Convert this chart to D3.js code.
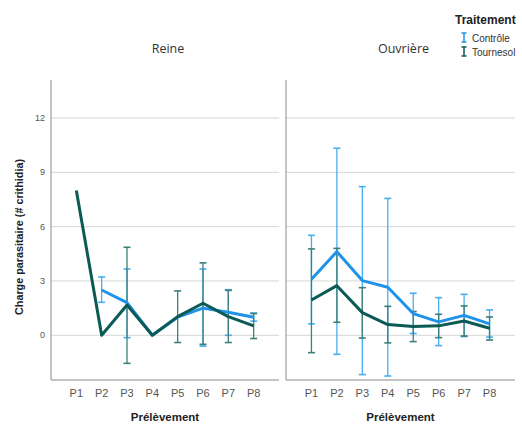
<!DOCTYPE html>
<html>
<head>
<meta charset="utf-8">
<script src="https://cdn.jsdelivr.net/npm/d3@7"></script>
<style>
  body { margin: 0; background: #fff; }
  svg { display: block; }
</style>
</head>
<body>
<div id="chart"></div>
<script>
// Data
const categories = ['P1', 'P2', 'P3', 'P4', 'P5', 'P6', 'P7', 'P8'];
const panelNames = ['Reine', 'Ouvrière'];
const seriesNames = ['Contrôle', 'Tournesol'];
const yTicks = [0, 3, 6, 9, 12];

// Reine
const reineControle     = [null, 2.5, 1.8, 0, 1.0, 1.5, 1.27, 1.0];
const reineControleLow  = [null, 1.82, -0.13, null, null, -0.6, 0.0, 0.78];
const reineControleHigh = [null, 3.22, 3.66, null, null, 3.66, 2.52, 1.23];
const reineTournesol     = [8.0, 0, 1.67, 0, 1.03, 1.77, 1.03, 0.52];
const reineTournesolLow  = [null, null, -1.55, null, -0.4, -0.5, -0.4, -0.18];
const reineTournesolHigh = [null, null, 4.86, null, 2.45, 4.0, 2.48, 1.2];

// Ouvrière
const ouvControle     = [3.09, 4.62, 3.02, 2.65, 1.2, 0.74, 1.1, 0.63];
const ouvControleLow  = [0.63, -1.05, -2.17, -2.25, 0.1, -0.57, -0.07, -0.1];
const ouvControleHigh = [5.52, 10.33, 8.21, 7.56, 2.32, 2.08, 2.26, 1.4];
const ouvTournesol     = [1.95, 2.74, 1.25, 0.59, 0.48, 0.52, 0.79, 0.39];
const ouvTournesolLow  = [-0.96, 0.72, -0.15, -0.42, -0.35, -0.13, -0.04, -0.26];
const ouvTournesolHigh = [4.77, 4.8, 2.63, 1.6, 1.31, 1.16, 1.62, 1.01];

const colors = {
  'Contrôle': { line: '#1f93ea', bar: '#46aef0' },
  'Tournesol': { line: '#0b5a53', bar: '#3b7f7b' }
};

const panels = [
  {
    name: panelNames[0],
    series: [
      { name: seriesNames[0], values: reineControle, low: reineControleLow, high: reineControleHigh },
      { name: seriesNames[1], values: reineTournesol, low: reineTournesolLow, high: reineTournesolHigh }
    ]
  },
  {
    name: panelNames[1],
    series: [
      { name: seriesNames[0], values: ouvControle, low: ouvControleLow, high: ouvControleHigh },
      { name: seriesNames[1], values: ouvTournesol, low: ouvTournesolLow, high: ouvTournesolHigh }
    ]
  }
];

// Dimensions
const width = 522, height = 424;
const plotTop = 80, plotBottom = 380;
const panelX = [[51, 279], [286, 515]];

const svg = d3.select('#chart')
  .append('svg')
  .attr('width', width)
  .attr('height', height);

const yScale = d3.scaleLinear()
  .domain([-2.47, 14.1])
  .range([plotBottom, plotTop]);

// y tick labels (left panel only)
svg.append('g')
  .selectAll('text')
  .data(yTicks)
  .join('text')
  .attr('x', 45)
  .attr('y', d => yScale(d) + 3)
  .attr('text-anchor', 'end')
  .attr('font-family', 'Liberation Sans, Arial, sans-serif')
  .attr('font-size', 9)
  .attr('fill', '#555')
  .text(d => d);

// y axis title
svg.append('text')
  .attr('transform', `translate(23, 237) rotate(-90)`)
  .attr('text-anchor', 'middle')
  .attr('font-family', 'Liberation Sans, Arial, sans-serif')
  .attr('font-weight', 'bold')
  .attr('font-size', 10.8)
  .attr('fill', '#222')
  .text('Charge parasitaire (# crithidia)');

panels.forEach((panel, i) => {
  const [x0, x1] = panelX[i];
  const xScale = d3.scalePoint()
    .domain(categories)
    .range([x0, x1])
    .padding(1);

  const g = svg.append('g');

  // gridlines
  g.selectAll('line.grid')
    .data(yTicks)
    .join('line')
    .attr('class', 'grid')
    .attr('x1', x0)
    .attr('x2', x1)
    .attr('y1', d => yScale(d))
    .attr('y2', d => yScale(d))
    .attr('stroke', '#d6d6d6')
    .attr('stroke-width', 1);

  // axes lines
  g.append('line')
    .attr('x1', x0).attr('x2', x0)
    .attr('y1', plotTop).attr('y2', plotBottom)
    .attr('stroke', '#8a8a8a');
  g.append('line')
    .attr('x1', x0).attr('x2', x1)
    .attr('y1', plotBottom).attr('y2', plotBottom)
    .attr('stroke', '#8a8a8a');

  // panel title
  svg.append('text')
    .attr('x', (x0 + x1) / 2 + 3)
    .attr('y', 53)
    .attr('text-anchor', 'middle')
    .attr('font-family', 'Open Sans, sans-serif')
    .attr('font-size', 12.5)
    .attr('fill', '#333')
    .text(panel.name);

  // x tick labels
  g.selectAll('text.xtick')
    .data(categories)
    .join('text')
    .attr('class', 'xtick')
    .attr('x', d => xScale(d))
    .attr('y', 397)
    .attr('text-anchor', 'middle')
    .attr('font-family', 'Liberation Sans, Arial, sans-serif')
    .attr('font-size', 11)
    .attr('fill', '#555')
    .text(d => d);

  // x axis title
  g.append('text')
    .attr('x', (x0 + x1) / 2)
    .attr('y', 421)
    .attr('text-anchor', 'middle')
    .attr('font-family', 'Liberation Sans, Arial, sans-serif')
    .attr('font-weight', 'bold')
    .attr('font-size', 11.5)
    .attr('fill', '#222')
    .text('Prélèvement');

  // error bars
  panel.series.forEach(s => {
    const bars = categories
      .map((c, j) => ({ c, low: s.low[j], high: s.high[j] }))
      .filter(d => d.low != null && d.high != null);
    const col = colors[s.name].bar;
    const eg = g.append('g');
    eg.selectAll('line.v')
      .data(bars)
      .join('line')
      .attr('class', 'v')
      .attr('x1', d => xScale(d.c)).attr('x2', d => xScale(d.c))
      .attr('y1', d => yScale(d.low)).attr('y2', d => yScale(d.high))
      .attr('stroke', col).attr('stroke-width', 1.3);
    ['low', 'high'].forEach(k => {
      eg.selectAll('line.' + k)
        .data(bars)
        .join('line')
        .attr('class', k)
        .attr('x1', d => xScale(d.c) - 3.5).attr('x2', d => xScale(d.c) + 3.5)
        .attr('y1', d => yScale(d[k])).attr('y2', d => yScale(d[k]))
        .attr('stroke', col).attr('stroke-width', 1.6);
    });
  });

  // lines
  panel.series.forEach(s => {
    const line = d3.line()
      .defined(d => d.v != null)
      .x(d => xScale(d.c))
      .y(d => yScale(d.v));
    g.append('path')
      .datum(categories.map((c, j) => ({ c, v: s.values[j] })))
      .attr('d', line)
      .attr('fill', 'none')
      .attr('stroke', colors[s.name].line)
      .attr('stroke-width', 3)
      .attr('stroke-linejoin', 'round');
  });
});

// legend
const legend = svg.append('g');
legend.append('text')
  .attr('x', 455)
  .attr('y', 24)
  .attr('font-family', 'Liberation Sans, Arial, sans-serif')
  .attr('font-weight', 'bold')
  .attr('font-size', 12)
  .attr('fill', '#222')
  .text('Traitement');

seriesNames.forEach((name, i) => {
  const y = 42 + i * 14;
  const col = colors[name].line;
  const ig = legend.append('g');
  ig.append('line').attr('x1', 464).attr('x2', 464).attr('y1', y - 9).attr('y2', y).attr('stroke', col).attr('stroke-width', 1.5);
  ig.append('line').attr('x1', 461.5).attr('x2', 466.5).attr('y1', y - 9).attr('y2', y - 9).attr('stroke', col).attr('stroke-width', 1.5);
  ig.append('line').attr('x1', 461.5).attr('x2', 466.5).attr('y1', y).attr('y2', y).attr('stroke', col).attr('stroke-width', 1.5);
  legend.append('text')
    .attr('x', 472)
    .attr('y', y)
    .attr('font-family', 'Liberation Sans, Arial, sans-serif')
    .attr('font-size', 10)
    .attr('fill', '#333')
    .text(name);
});
</script>
</body>
</html>
